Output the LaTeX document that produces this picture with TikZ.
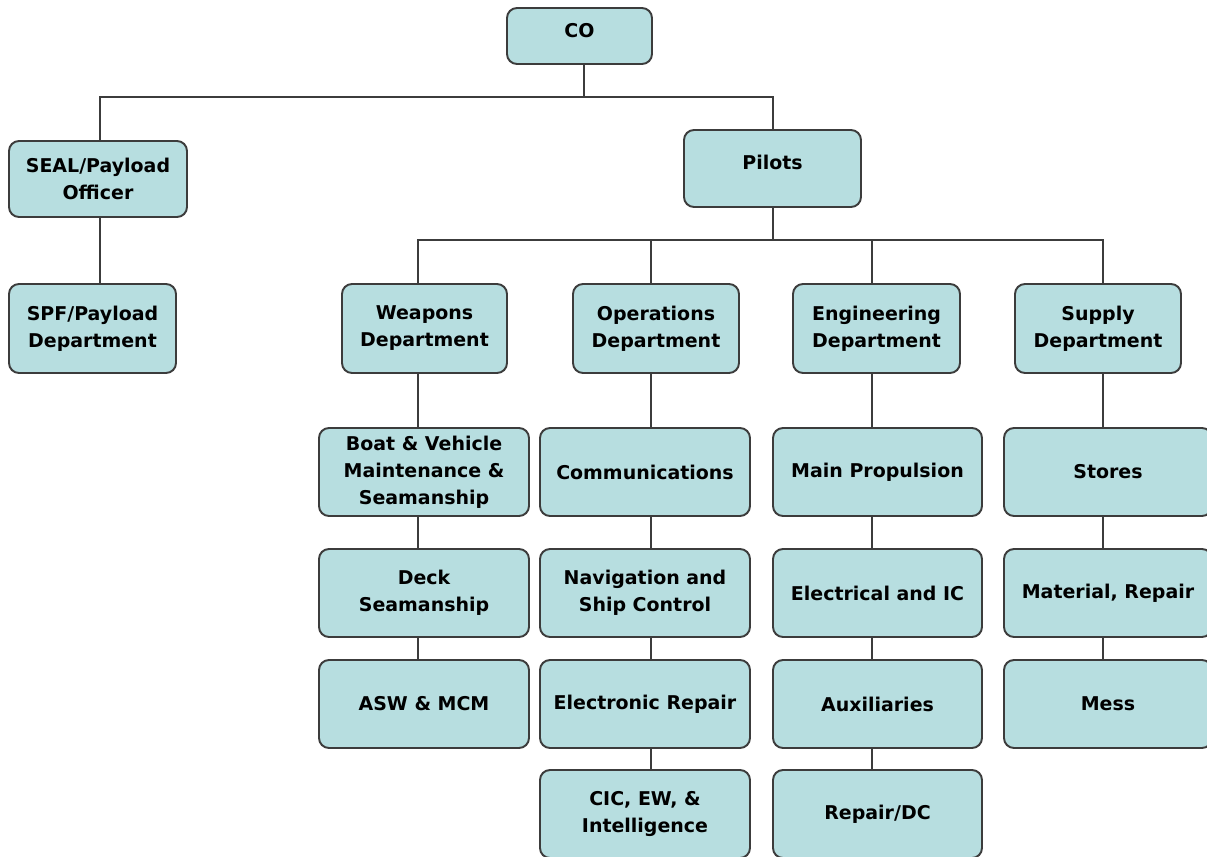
\documentclass[tikz,border=0pt]{standalone}
\usepackage{fontspec}
\setmainfont{DejaVu Sans}
\definecolor{boxfill}{HTML}{B7DEE0}
\definecolor{boxline}{HTML}{3C3C3C}
\begin{document}
\begin{tikzpicture}[x=0.02cm,y=-0.02cm,
  unit/.style={draw=boxline,fill=boxfill,line width=1.1pt,rounded corners=0.2cm,
    align=center,inner sep=0pt,font=\fontsize{10.8}{15.4}\selectfont\bfseries},
  box/.style n args={2}{unit,minimum width=#1*0.02cm,minimum height=#2*0.02cm},
  link/.style={draw=boxline,line width=1.1pt}]
\clip (0,0) rectangle (1207,856);
\fill[white] (0,0) rectangle (1207,856);

% command level
\node[box={145}{56}]  (co)     at (579.5,36)  {\raisebox{0.24cm}{CO}};
\node[box={178}{76}]  (seal)   at (98,179)    {SEAL/Payload\\Officer};
\node[box={177}{77}]  (pilots) at (772.5,168.5) {\raisebox{0.24cm}{Pilots}};
\node[box={167}{89}]  (spf)    at (92.5,328.5) {SPF/Payload\\Department};

% departments
\node[box={165}{89}] (weap) at (424.5,328.5) {Weapons\\Department};
\node[box={166}{89}] (ops)  at (656,328.5)   {Operations\\Department};
\node[box={167}{89}] (eng)  at (876.5,328.5) {Engineering\\Department};
\node[box={166}{89}] (sup)  at (1098,328.5)  {Supply\\Department};

% divisions
\node[box={210}{88}] (boat)  at (424,472)   {Boat \& Vehicle\\Maintenance \&\\Seamanship};
\node[box={210}{88}] (deck)  at (424,593)   {Deck\\Seamanship};
\node[box={210}{88}] (asw)   at (424,704)   {ASW \& MCM};

\node[box={210}{88}] (comm)  at (645,472)   {Communications};
\node[box={210}{88}] (nav)   at (645,593)   {Navigation and\\Ship Control};
\node[box={210}{88}] (elec)  at (645,704)   {Electronic Repair};
\node[box={210}{88}] (cic)   at (645,814)   {CIC, EW, \&\\Intelligence};

\node[box={209}{88}] (mainp) at (877.5,472) {Main Propulsion};
\node[box={209}{88}] (elic)  at (877.5,593) {Electrical and IC};
\node[box={209}{88}] (aux)   at (877.5,704) {Auxiliaries};
\node[box={209}{88}] (rdc)   at (877.5,814) {Repair/DC};

\node[box={208}{88}] (stores) at (1108,472) {Stores};
\node[box={208}{88}] (matl)   at (1108,593) {Material, Repair};
\node[box={208}{88}] (mess)   at (1108,704) {Mess};

% bus junctions
\coordinate (b1) at (584,97);
\coordinate (b2) at (773,240);
\coordinate (w)  at (418,240);

% connectors
\draw[link] (co.south -| b1) -- (b1);
\draw[link] (seal.north) ++(2,0) |- (b1) -| (pilots.north -| b2);
\draw[link] (pilots.south -| b2) -- (b2);
\draw[link] (weap.north -| w) -- (w) -- (b2) -| ([xshift=0.1cm]sup.north);
\draw[link] (ops.north) ++(-5,0) -- ++(0,-44);
\draw[link] (eng.north) ++(-4.5,0) -- ++(0,-44);
\draw[link] (seal.south) ++(2,0) -- ++(0,67);

\draw[link] (weap.south -| w) -- (boat.north -| w);
\draw[link] (boat.south -| w) -- (deck.north -| w);
\draw[link] (deck.south -| w) -- (asw.north -| w);

\draw[link] ([xshift=0.12cm]comm.north |- ops.south) -- ([xshift=0.12cm]comm.north);
\draw[link] ([xshift=0.12cm]comm.south) -- ([xshift=0.12cm]comm.south |- nav.north);
\draw[link] ([xshift=0.12cm]nav.south) -- ([xshift=0.12cm]nav.south |- elec.north);
\draw[link] ([xshift=0.12cm]elec.south) -- ([xshift=0.12cm]elec.south |- cic.north);

\draw[link] ([xshift=-0.11cm]mainp.north |- eng.south) -- ([xshift=-0.11cm]mainp.north);
\draw[link] ([xshift=-0.11cm]mainp.south) -- ([xshift=-0.11cm]mainp.south |- elic.north);
\draw[link] ([xshift=-0.11cm]elic.south) -- ([xshift=-0.11cm]elic.south |- aux.north);
\draw[link] ([xshift=-0.11cm]aux.south) -- ([xshift=-0.11cm]aux.south |- rdc.north);

\draw[link] ([xshift=-0.1cm]stores.north |- sup.south) -- ([xshift=-0.1cm]stores.north);
\draw[link] ([xshift=-0.1cm]stores.south) -- ([xshift=-0.1cm]stores.south |- matl.north);
\draw[link] ([xshift=-0.1cm]matl.south) -- ([xshift=-0.1cm]matl.south |- mess.north);
\end{tikzpicture}
\end{document}
